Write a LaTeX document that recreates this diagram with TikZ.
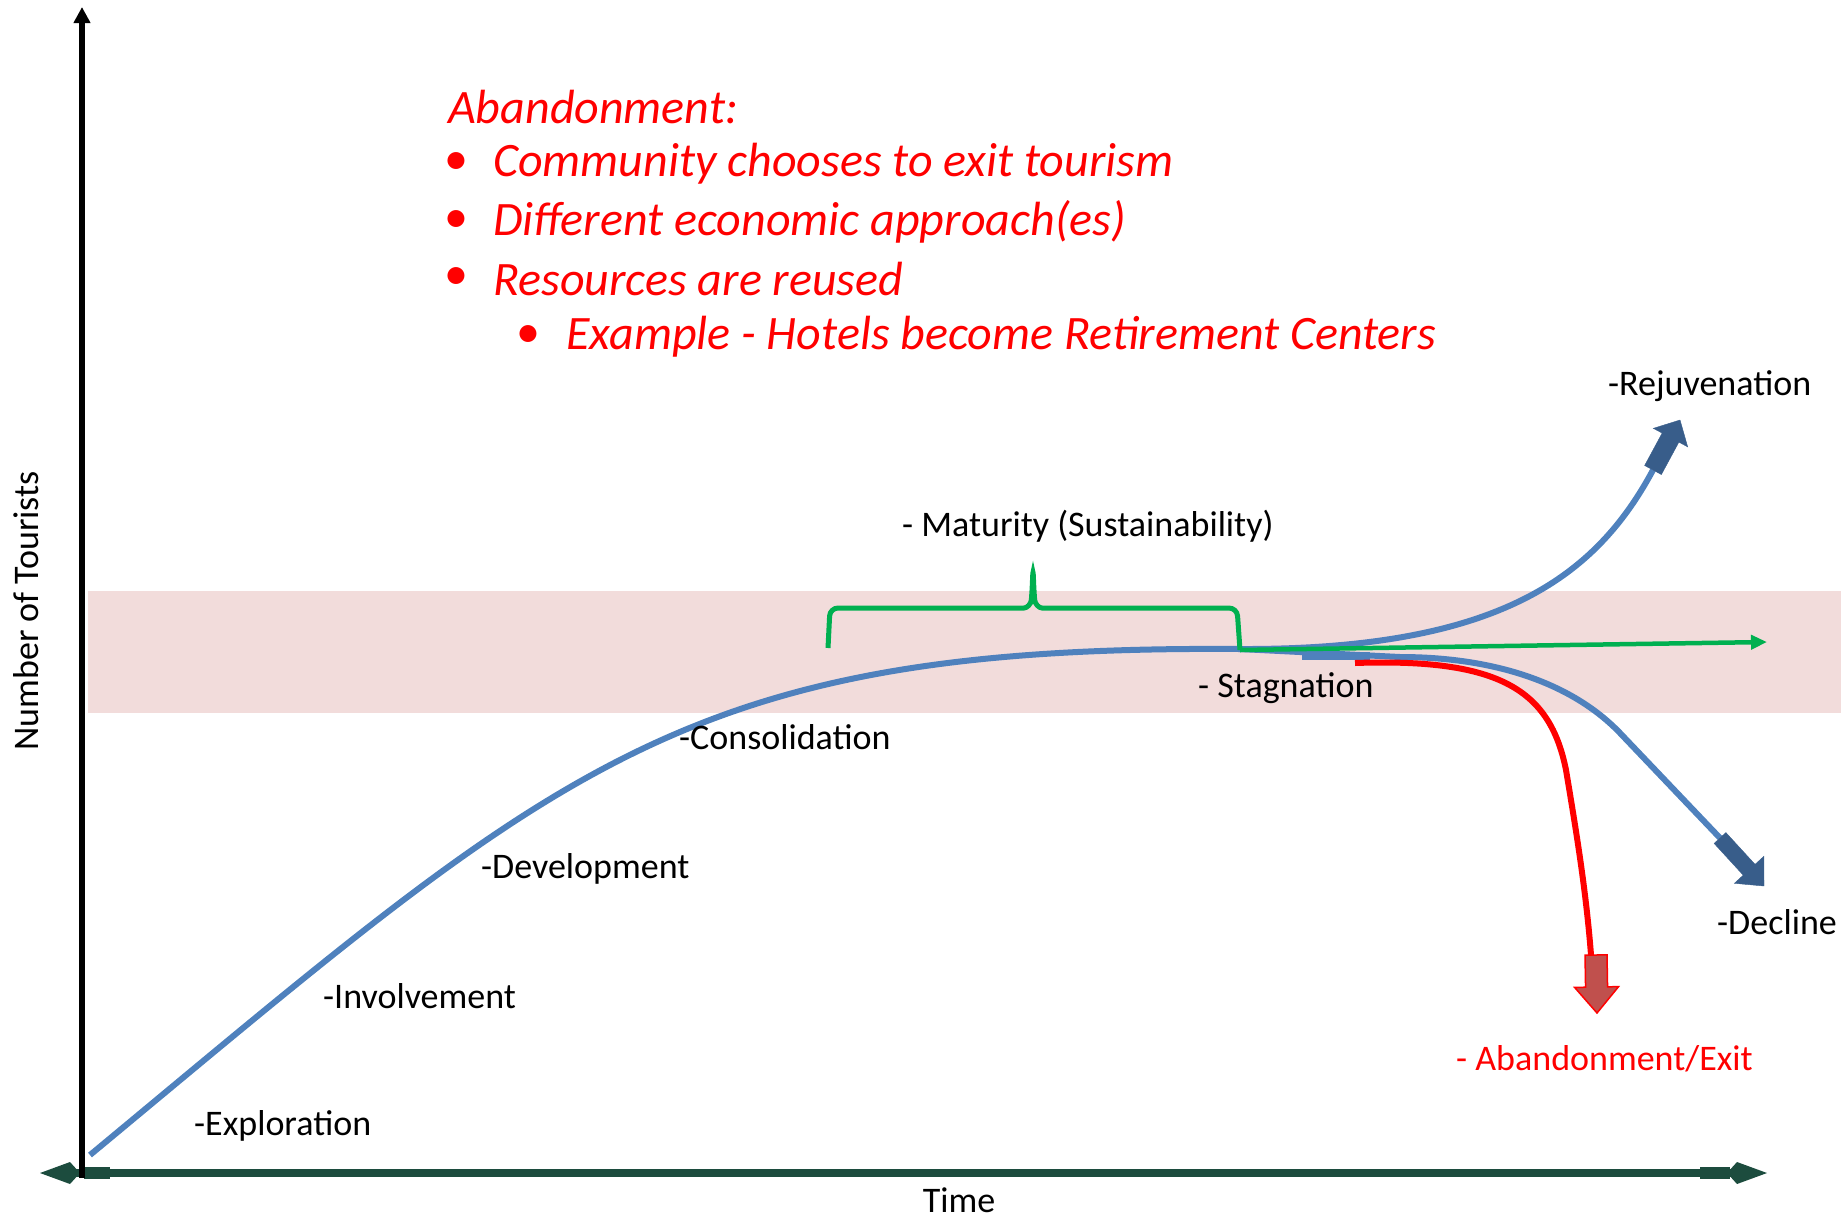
\documentclass[tikz,border=0pt]{standalone}
\usepackage{fontspec}
\setmainfont{Carlito}
\usetikzlibrary{arrows.meta,calc}

\definecolor{curveblue}{RGB}{79,129,189}
\definecolor{tipblue}{RGB}{56,93,138}
\definecolor{bandpink}{RGB}{242,220,219}
\definecolor{axisgreen}{RGB}{28,76,62}
\definecolor{bracegreen}{RGB}{0,176,80}
\definecolor{tipred}{RGB}{192,80,77}

% block arrow: style, base, tip, half stem width, head length, half head width
\newcommand{\blockarrow}[6]{
  \coordinate (ba-h) at ($(#3)!#5!(#2)$);
  \filldraw[#1] ($(#2)!#4!90:(#3)$) -- ($(ba-h)!#4!90:(#3)$) -- ($(ba-h)!#6!90:(#3)$)
    -- (#3) -- ($(ba-h)!#6!-90:(#3)$) -- ($(ba-h)!#4!-90:(#3)$) -- ($(#2)!#4!-90:(#3)$) -- cycle;
}

\begin{document}
\begin{tikzpicture}[x=1pt,y=-1pt,
    lbl/.style={font=\fontsize{36}{43}\selectfont, anchor=west, inner sep=0pt},
    note/.style={font=\fontsize{48}{57}\selectfont\itshape, text=red, anchor=west, inner sep=0pt},
    dot/.style={font=\fontsize{48}{57}\selectfont, text=red, inner sep=0pt},
    curve/.style={curveblue, line width=6pt},
    brace/.style={bracegreen, line width=5pt, rounded corners=8pt},
    abandon/.style={red, line width=6pt}]
  \useasboundingbox (0,0) rectangle (1841,1216);

  % band of carrying capacity
  \fill[bandpink] (88,591) rectangle (1841,713);

  \coordinate (start) at (90,1155);
  \coordinate (stag) at (1240,649);
  \coordinate (rej) at (1653,470);
  \coordinate (rejtip) at (1680,420);
  \coordinate (dec) at (1720,838);
  \coordinate (dectip) at (1764,886);
  \coordinate (abstart) at (1355,663);
  \coordinate (ab) at (1591,955);
  \coordinate (abbase) at (1596,955);
  \coordinate (abtip) at (1597,1013);
  \coordinate (brl) at (828,648);
  \coordinate (brr) at (1240,650);
  \coordinate (grn) at (1767,642);

  % life cycle
  \draw[curve] (start) .. controls (560,765) and (680,645) .. (stag);
  \draw[curve] (stag) .. controls (1500,650) and (1596,576) .. (rej);
  \draw[curve] (stag) -- (1400,657) .. controls (1500,657) and (1575,686) .. (1620,733) -- (dec);
  \draw[curveblue, line width=8pt] (1302,656) -- (1370,656);
  \blockarrow{tipblue}{rej}{rejtip}{9.5pt}{20pt}{19.5pt}
  \blockarrow{tipblue}{dec}{dectip}{8pt}{22pt}{20pt}

  % maturity brace
  \draw[brace] (brl) -- (830,608) -- (1016,608) .. controls (1027,608) and (1031,604) .. (1032,592) -- (1033,568)
    -- (1034,592) .. controls (1035,604) and (1039,608) .. (1050,608) -- (1237,608) -- (brr);
  \draw[bracegreen, line width=4.5pt, -{Triangle[length=16pt,width=14pt]}] (brr) -- (grn);

  % abandonment
  \draw[abandon] (abstart) .. controls (1500,658) and (1550,690) .. (1566,770) .. controls (1576,830) and (1586,890) .. (ab);
  \blockarrow{fill=tipred, draw=red, line width=1.5pt}{abbase}{abtip}{11pt}{26pt}{22pt}

  % axes
  \coordinate (xl) at (40,1173);
  \coordinate (xr) at (1767,1173);
  \coordinate (o) at (82,1178);
  \coordinate (ytop) at (82,7);
  \draw[axisgreen, line width=8pt, {Kite[length=40pt,width=22pt,inset=10pt]}-{Kite[length=40pt,width=22pt,inset=10pt]}] (xl) -- (xr);
  \draw[axisgreen, line width=12pt] (84,1173) -- (110,1173);
  \draw[axisgreen, line width=12pt] (1700,1173) -- (1730,1173);
  \draw[black, line width=6pt, -{Triangle[length=16pt,width=16pt]}] (o) -- (ytop);

  \node[lbl, anchor=center] (time) at (959,1200) {Time};
  \node[lbl, anchor=center, rotate=90] (tourists) at (26,611) {Number of Tourists};

  % stages
  \node[lbl] (exploration) at (194,1126) {-Exploration};
  \node[lbl] (involvement) at (323,996) {-Involvement};
  \node[lbl] (development) at (481,869) {-Development};
  \node[lbl] (consolidation) at (679,737) {-Consolidation};
  \node[lbl] (maturity) at (902,526) {- Maturity (Sustainability)};
  \node[lbl] (stagnation) at (1198,688) {- Stagnation};
  \node[lbl] (rejuvenation) at (1608,386) {-Rejuvenation};
  \node[lbl] (decline) at (1717,922) {-Decline};
  \node[lbl, text=red] (exit) at (1456,1059) {- Abandonment/Exit};

  % note
  \node[note] (head) at (448,107) {Abandonment:};
  \node[dot] at (456,164) {\textbullet};
  \node[note] (item1) at (493,164) {Community chooses to exit tourism};
  \node[dot] at (456,222) {\textbullet};
  \node[note] (item2) at (493,222) {Different economic approach(es)};
  \node[dot] at (456,279) {\textbullet};
  \node[note] (item3) at (493,279) {Resources are reused};
  \node[dot] at (528,337) {\textbullet};
  \node[note] (item4) at (566,337) {Example - Hotels become Retirement Centers};
\end{tikzpicture}
\end{document}
